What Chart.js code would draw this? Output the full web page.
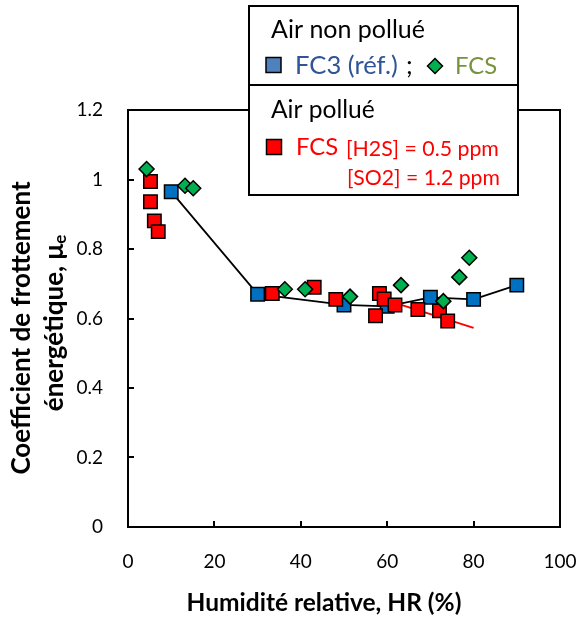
<!DOCTYPE html>
<html>
<head>
<meta charset="utf-8">
<script src="https://cdn.jsdelivr.net/npm/chart.js@4.4.0/dist/chart.umd.min.js"></script>
<style>
  html, body { margin: 0; padding: 0; background: #fff; }
  canvas { display: block; }
</style>
</head>
<body>
<canvas id="chart" width="582" height="618"></canvas>
<script>
// relative humidity (%) / energy friction coefficient
const fc3X = [10, 30, 50, 60, 70, 80, 90];
const fc3Y = [0.965, 0.67, 0.639, 0.635, 0.661, 0.655, 0.696];

// FCS, clean air
const fcsCleanX = [4.3, 13.2, 15.1, 36.3, 41.0, 51.4, 63.2, 73.0, 76.7, 79.0];
const fcsCleanY = [1.03, 0.982, 0.975, 0.684, 0.684, 0.663, 0.696, 0.650, 0.719, 0.775];

// FCS, polluted air (H2S + SO2)
const fcsPollX = [5.2, 5.2, 6.1, 7.0, 33.4, 43.1, 48.1, 57.3, 58.2, 59.3, 61.8, 67.1, 72.1, 74.0];
const fcsPollY = [0.994, 0.936, 0.881, 0.850, 0.672, 0.690, 0.655, 0.608, 0.672, 0.656, 0.639, 0.626, 0.622, 0.593];

// red trend segment for the polluted series
const trendX = [61.8, 80];
const trendY = [0.645, 0.573];

const xTicks = [0, 20, 40, 60, 80, 100];
const yTicks = [0, 0.2, 0.4, 0.6, 0.8, 1, 1.2];

const FONT = 'Lato, "Noto Sans", sans-serif';

const pts = (xs, ys) => xs.map((x, i) => ({ x, y: ys[i] }));

// draw text squeezed/stretched to a given width
function fitText(ctx, text, x, y, width, weight, color) {
  ctx.font = weight + ' 20px ' + FONT;
  const size = 20 * width / ctx.measureText(text).width;
  ctx.font = weight + ' ' + size.toFixed(1) + 'px ' + FONT;
  ctx.fillStyle = color;
  ctx.fillText(text, x, y);
  return size;
}

function sizedText(ctx, text, x, y, size, color) {
  ctx.font = size.toFixed(1) + 'px ' + FONT;
  ctx.fillStyle = color;
  ctx.fillText(text, x, y);
  return x + ctx.measureText(text).width;
}

function square(ctx, cx, cy, s, fill) {
  ctx.fillStyle = fill;
  ctx.fillRect(cx - s / 2, cy - s / 2, s, s);
  ctx.strokeRect(cx - s / 2, cy - s / 2, s, s);
}

function diamond(ctx, cx, cy, r, fill) {
  ctx.beginPath();
  ctx.moveTo(cx, cy - r);
  ctx.lineTo(cx + r, cy);
  ctx.lineTo(cx, cy + r);
  ctx.lineTo(cx - r, cy);
  ctx.closePath();
  ctx.fillStyle = fill;
  ctx.fill();
  ctx.stroke();
}

const frame = {
  id: 'frame',
  beforeDatasetsDraw(chart) {
    const { ctx, chartArea: a, scales: { x, y } } = chart;
    ctx.save();
    ctx.strokeStyle = '#000';
    ctx.lineWidth = 2;
    ctx.strokeRect(a.left, a.top, a.right - a.left, a.bottom - a.top);
    // ticks point into the plot
    ctx.beginPath();
    x.ticks.forEach(t => {
      if (t.value > x.min && t.value < x.max) {
        const px = Math.round(x.getPixelForValue(t.value));
        ctx.moveTo(px, a.bottom);
        ctx.lineTo(px, a.bottom - 6);
      }
    });
    y.ticks.forEach(t => {
      if (t.value > y.min && t.value < y.max) {
        const py = Math.round(y.getPixelForValue(t.value));
        ctx.moveTo(a.left, py);
        ctx.lineTo(a.left + 6, py);
      }
    });
    ctx.stroke();
    ctx.restore();
  },
  afterDraw(chart) {
    const { ctx } = chart;
    ctx.save();
    ctx.textBaseline = 'alphabetic';

    // axis titles
    ctx.font = 'bold 20px ' + FONT;
    const xt = 'Humidité relative, HR (%)';
    const xs = 20 * 275 / ctx.measureText(xt).width;
    ctx.font = 'bold ' + xs.toFixed(1) + 'px ' + FONT;
    ctx.fillStyle = '#000';
    ctx.textAlign = 'center';
    ctx.fillText(xt, 324, 611);

    const l1 = 'Coefficient de frottement';
    const l2 = 'énergétique, μ';
    ctx.font = 'bold 20px ' + FONT;
    const ys = 20 * 293 / ctx.measureText(l1).width;
    ctx.font = 'bold ' + ys.toFixed(1) + 'px ' + FONT;
    ctx.save();
    ctx.translate(30, 328);
    ctx.rotate(-Math.PI / 2);
    ctx.fillText(l1, 0, 0);
    ctx.restore();

    const w2 = ctx.measureText(l2).width;
    ctx.font = 'bold ' + (ys * 0.65).toFixed(1) + 'px ' + FONT;
    const we = ctx.measureText('e').width;
    ctx.save();
    ctx.translate(63, 323);
    ctx.rotate(-Math.PI / 2);
    ctx.textAlign = 'left';
    const start = -(w2 + we) / 2;
    ctx.font = 'bold ' + ys.toFixed(1) + 'px ' + FONT;
    ctx.fillText(l2, start, 0);
    ctx.font = 'bold ' + (ys * 0.65).toFixed(1) + 'px ' + FONT;
    ctx.fillText('e', start + w2, 3);
    ctx.restore();

    // legend box
    ctx.textAlign = 'left';
    ctx.fillStyle = '#fff';
    ctx.fillRect(249, 6, 269, 189);
    ctx.strokeStyle = '#000';
    ctx.lineWidth = 2;
    ctx.strokeRect(249, 6, 269, 189);
    ctx.beginPath();
    ctx.moveTo(249, 85);
    ctx.lineTo(518, 85);
    ctx.stroke();

    fitText(ctx, 'Air non pollué', 271, 38, 154, 'normal', '#000');
    ctx.lineWidth = 1.5;
    square(ctx, 273.5, 65, 15, '#4F81BD');
    const s = fitText(ctx, 'FC3 (réf.)', 295, 74, 103, 'normal', '#2F5597');
    sizedText(ctx, ';', 406, 74, s, '#000');
    diamond(ctx, 435, 66, 7.5, '#00B050');
    sizedText(ctx, 'FCS', 455, 74, s * 0.93, '#77933C');

    fitText(ctx, 'Air pollué', 271, 118, 104, 'normal', '#000');
    square(ctx, 274, 147, 15, '#FF0000');
    sizedText(ctx, 'FCS', 296, 155, s * 0.93, '#FF0000');
    fitText(ctx, '[H2S] = 0.5 ppm', 346, 156, 153, 'normal', '#FF0000');
    fitText(ctx, '[SO2] = 1.2 ppm', 347, 185, 153, 'normal', '#FF0000');
    ctx.restore();
  }
};

const ctx = document.getElementById('chart').getContext('2d');

new Chart(ctx, {
  type: 'scatter',
  data: {
    datasets: [
      {
        label: 'FCS (air non pollué)',
        data: pts(fcsCleanX, fcsCleanY),
        pointStyle: 'rectRot',
        pointRadius: 7.5,
        pointBackgroundColor: '#00B050',
        pointBorderColor: '#000',
        pointBorderWidth: 1.5
      },
      {
        label: 'FCS (air pollué)',
        data: pts(fcsPollX, fcsPollY),
        pointStyle: 'rect',
        pointRadius: 9.5,
        pointBackgroundColor: '#FF0000',
        pointBorderColor: '#000',
        pointBorderWidth: 1.5
      },
      {
        label: 'tendance',
        data: pts(trendX, trendY),
        showLine: true,
        borderColor: '#FF0000',
        borderWidth: 2,
        pointRadius: 0
      },
      {
        label: 'FC3 (réf.)',
        data: pts(fc3X, fc3Y),
        showLine: true,
        borderColor: '#000',
        borderWidth: 1.8,
        pointStyle: 'rect',
        pointRadius: 9.5,
        pointBackgroundColor: '#0070C0',
        pointBorderColor: '#000',
        pointBorderWidth: 1.5
      }
    ]
  },
  options: {
    responsive: false,
    animation: false,
    layout: { padding: { top: 110, right: 22, left: 0, bottom: 0 } },
    plugins: { legend: { display: false }, tooltip: { enabled: false } },
    scales: {
      x: {
        type: 'linear',
        min: 0,
        max: 100,
        afterBuildTicks: sc => { sc.ticks = xTicks.map(v => ({ value: v })); },
        afterFit: sc => { sc.height = 91; sc.paddingLeft = 0; sc.paddingRight = 0; },
        grid: { display: false },
        border: { display: false },
        ticks: { color: '#000', font: { family: FONT, size: 19 }, padding: 15, maxRotation: 0, callback: v => String(v) }
      },
      y: {
        min: 0,
        max: 1.2,
        afterBuildTicks: sc => { sc.ticks = yTicks.map(v => ({ value: v })); },
        afterFit: sc => { sc.width = 128; sc.paddingTop = 0; sc.paddingBottom = 0; },
        grid: { display: false },
        border: { display: false },
        ticks: { color: '#000', font: { family: FONT, size: 19 }, padding: 17, callback: v => String(v) }
      }
    }
  },
  plugins: [frame]
});
</script>
</body>
</html>
